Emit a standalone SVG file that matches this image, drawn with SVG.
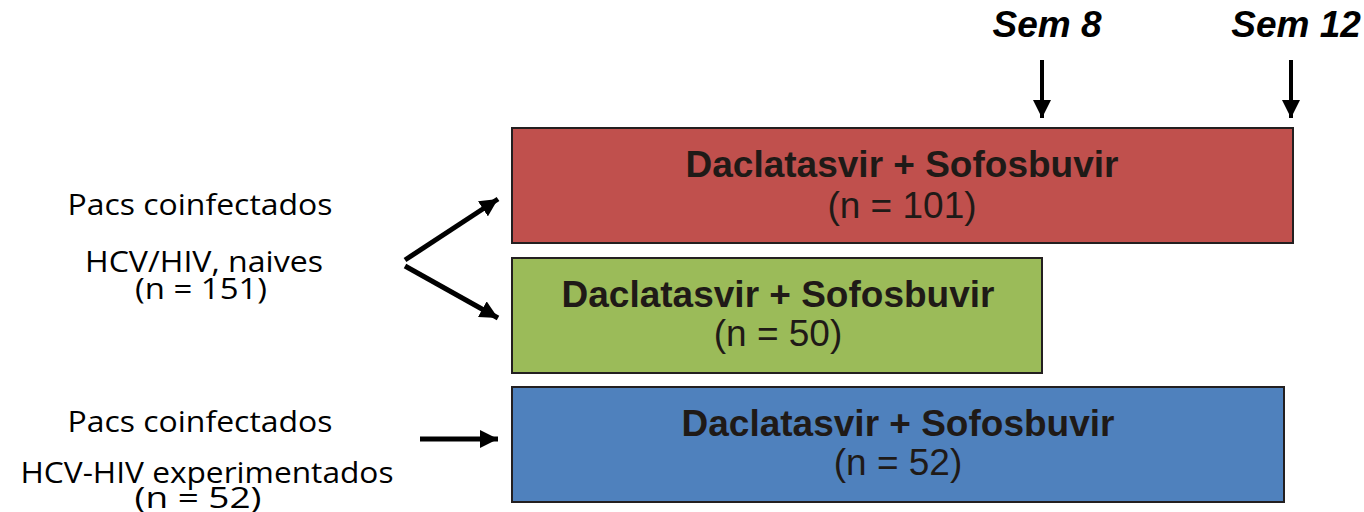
<svg xmlns="http://www.w3.org/2000/svg" width="1364" height="512" viewBox="0 0 1364 512">
<defs>
<marker id="ah" markerUnits="userSpaceOnUse" markerWidth="20" markerHeight="18" refX="18" refY="9" orient="auto">
<path d="M0,0 L18,9 L0,18 z" fill="#000"/>
</marker>
<style>
.box{stroke:#231f20;stroke-width:2}
.bt{font-family:"Liberation Sans",Arial,sans-serif;font-weight:bold;font-size:37px;fill:#1f1a17;text-anchor:middle}
.nt{font-family:"Liberation Sans",Arial,sans-serif;font-size:37px;fill:#1f1a17;text-anchor:middle}
.lt{font-family:"Open Sans",Lato,sans-serif;font-size:30px;fill:#000;text-anchor:middle}
.sem{font-family:"Liberation Sans",Arial,sans-serif;font-weight:bold;font-style:italic;font-size:37px;fill:#000;text-anchor:middle}
.con{stroke:#000;stroke-width:5;fill:none;marker-end:url(#ah)}
.dn{stroke:#000;stroke-width:4;fill:none;marker-end:url(#ah)}
</style>
</defs>
<g id="sem8"><text class="sem" x="1047" y="37">Sem 8</text></g>
<g id="sem12"><text class="sem" x="1296" y="37">Sem 12</text></g>
<g id="naive-label">
<text class="lt" x="200" y="215" textLength="265" lengthAdjust="spacingAndGlyphs">Pacs coinfectados</text>
<text class="lt" x="204" y="272" textLength="238" lengthAdjust="spacingAndGlyphs">HCV/HIV, naives</text>
<text class="lt" x="201" y="299" textLength="132" lengthAdjust="spacingAndGlyphs">(n = 151)</text>
</g>
<g id="exp-label">
<text class="lt" x="200" y="432" textLength="265" lengthAdjust="spacingAndGlyphs">Pacs coinfectados</text>
<text class="lt" x="207" y="483" textLength="373" lengthAdjust="spacingAndGlyphs">HCV-HIV experimentados</text>
<text class="lt" x="198" y="508" textLength="127" lengthAdjust="spacingAndGlyphs">(n = 52)</text>
</g>
<g id="red-box">
<rect class="box" x="512" y="128" width="781" height="115" fill="#C0504D"/>
<text class="bt" x="902" y="177">Daclatasvir + Sofosbuvir</text>
<text class="nt" x="902" y="218">(n = 101)</text>
</g>
<g id="green-box">
<rect class="box" x="512" y="258" width="530" height="115" fill="#9BBB59"/>
<text class="bt" x="778" y="307">Daclatasvir + Sofosbuvir</text>
<text class="nt" x="778" y="346">(n = 50)</text>
</g>
<g id="blue-box">
<rect class="box" x="512" y="387" width="772" height="115" fill="#4F81BD"/>
<text class="bt" x="898" y="436">Daclatasvir + Sofosbuvir</text>
<text class="nt" x="898" y="475">(n = 52)</text>
</g>
<g id="connectors">
<line class="dn" x1="1042" y1="60" x2="1042" y2="118"/>
<line class="dn" x1="1291" y1="60" x2="1291" y2="118"/>
<line class="con" x1="405" y1="260" x2="498" y2="199"/>
<line class="con" x1="405" y1="266" x2="498" y2="318"/>
<line class="con" x1="420" y1="439" x2="498" y2="439"/>
</g>
</svg>
